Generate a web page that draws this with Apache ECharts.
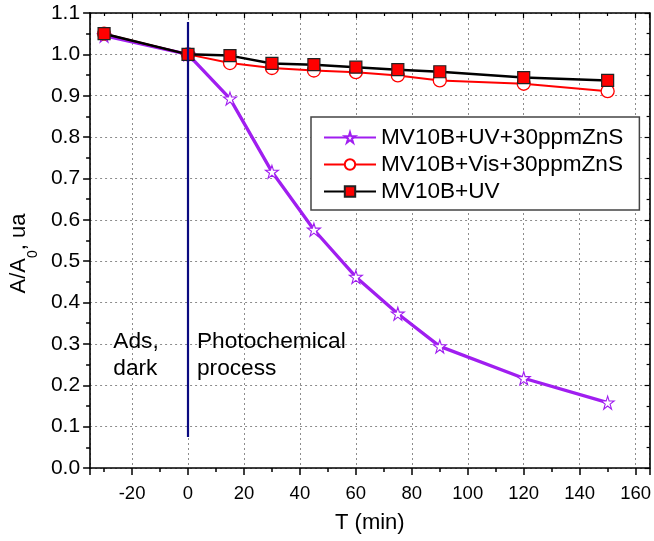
<!DOCTYPE html>
<html>
<head>
<meta charset="utf-8">
<script src="https://cdn.jsdelivr.net/npm/echarts@6/dist/echarts.min.js"></script>
<style>html,body{margin:0;padding:0;background:#fff}#c{width:654px;height:541px}</style>
</head>
<body>
<div id="c"></div>
<script>
var times = [-30, 0, 15, 30, 45, 60, 75, 90, 120, 150];
var uvZnS  = [1.045, 1.0, 0.893, 0.716, 0.576, 0.462, 0.373, 0.294, 0.217, 0.158];
var visZnS = [1.05, 1.0, 0.979, 0.967, 0.961, 0.957, 0.949, 0.937, 0.929, 0.911];
var uvOnly = [1.05, 1.0, 0.997, 0.978, 0.975, 0.969, 0.963, 0.958, 0.944, 0.937];
var seriesNames = ['MV10B+UV+30ppmZnS', 'MV10B+Vis+30ppmZnS', 'MV10B+UV'];
var divider = {x: 0, yFrom: 0.075, yTo: 1.078};
var notes = [
  {text: 'Ads,\ndark', x: -26.7, y: 0.306},
  {text: 'Photochemical\nprocess', x: 3.2, y: 0.306}
];
var xRange = [-35, 165];
var yRange = [0, 1.1];

function pairs(ys){ return times.map(function(t,i){ return [t, ys[i]]; }); }

var FONT = 'Liberation Sans, Arial, sans-serif';
var chart = echarts.init(document.getElementById('c'), null, {renderer:'canvas'});

var axisLineStyle = {color:'#000', width:1.6};
var gridLine = {show:true, lineStyle:{color:'#8c8c8c', type:[2,3], width:1}};

chart.setOption({
  animation:false,
  backgroundColor:'#fff',
  grid:{left:88, right:3, top:13, bottom:73},
  legend:{
    left:311, top:117,
    orient:'vertical',
    data:seriesNames,
    itemWidth:52, itemHeight:13, itemGap:4,
    padding:[9,16,7,12],
    borderColor:'#444', borderWidth:1.5, backgroundColor:'#fff',
    textStyle:{fontFamily:FONT, fontSize:22.6, color:'#000', lineHeight:23},
    z:10
  },
  xAxis:[{
    type:'value', min:xRange[0], max:xRange[1], splitNumber:10,
    name:'T (min)', nameLocation:'middle', nameGap:44,
    nameTextStyle:{fontFamily:FONT, fontSize:22, color:'#000'},
    axisLine:{show:true, onZero:false, lineStyle:axisLineStyle},
    axisTick:{show:true, inside:false, length:7, lineStyle:{color:'#000', width:1.5}},
    minorTick:{show:true, splitNumber:2, length:4, lineStyle:{color:'#000', width:1.5}},
    axisLabel:{fontFamily:FONT, fontSize:18.5, color:'#000', margin:16, showMinLabel:false, showMaxLabel:false},
    splitLine:gridLine
  },{
    type:'value', position:'top', min:xRange[0], max:xRange[1], splitNumber:10,
    axisLine:{show:true, onZero:false, lineStyle:axisLineStyle},
    axisTick:{show:true, inside:true, length:5, lineStyle:{color:'#000', width:1.2}},
    minorTick:{show:true, splitNumber:2, length:3, lineStyle:{color:'#000', width:1.2}},
    axisLabel:{show:false}, splitLine:{show:false}
  }],
  yAxis:[{
    type:'value', min:yRange[0], max:yRange[1], interval:0.1,
    name:'{a|A/A}{s|0}{a|, ua}', nameLocation:'middle', nameGap:55, nameRotate:90,
    nameTextStyle:{padding:[0,26,0,0], rich:{a:{fontFamily:FONT, fontSize:22, color:'#000'}, s:{fontFamily:FONT, fontSize:14, color:'#000', verticalAlign:'bottom', padding:[0,0,-10,0]}}},
    axisLine:{show:true, onZero:false, lineStyle:axisLineStyle},
    axisTick:{show:true, inside:false, length:7, lineStyle:{color:'#000', width:1.5}},
    minorTick:{show:true, splitNumber:2, length:4, lineStyle:{color:'#000', width:1.5}},
    axisLabel:{fontFamily:FONT, fontSize:21, color:'#000', margin:10, formatter:function(v){return v.toFixed(1);}},
    splitLine:gridLine
  },{
    type:'value', position:'right', min:yRange[0], max:yRange[1], interval:0.1,
    axisLine:{show:true, onZero:false, lineStyle:axisLineStyle},
    axisTick:{show:true, inside:true, length:5, lineStyle:{color:'#000', width:1.2}},
    minorTick:{show:true, splitNumber:2, length:3, lineStyle:{color:'#000', width:1.2}},
    axisLabel:{show:false}, splitLine:{show:false}
  }],
  series:[{
    name:seriesNames[0], type:'line', data:pairs(uvZnS), z:3,
    symbol:'path://M50,2 L61,37 L98,37 L68,59 L79,95 L50,73 L21,95 L32,59 L2,37 L39,37 Z',
    symbolSize:13,
    lineStyle:{color:'#a01ef0', width:3.3},
    itemStyle:{color:'#fff', borderColor:'#a01ef0', borderWidth:1.1}
  },{
    name:seriesNames[1], type:'line', data:pairs(visZnS), z:4,
    symbol:'circle', symbolSize:13,
    lineStyle:{color:'#ff0000', width:2},
    itemStyle:{color:'#fff', borderColor:'#ff0000', borderWidth:1.3}
  },{
    name:seriesNames[2], type:'line', data:pairs(uvOnly), z:5,
    symbol:'rect', symbolSize:12,
    lineStyle:{color:'#000', width:2.5},
    itemStyle:{color:'#ff0000', borderColor:'#222', borderWidth:1.2},
    markLine:{
      silent:true, symbol:['none','none'], z:6,
      lineStyle:{color:'#0a0a80', width:2.2, type:'solid'},
      label:{show:false},
      data:[[{coord:[divider.x, divider.yFrom]}, {coord:[divider.x, divider.yTo]}]]
    }
  }]
});

var g = notes.map(function(n){
  var p = chart.convertToPixel({xAxisIndex:0, yAxisIndex:0}, [n.x, n.y]);
  return {type:'text', x:p[0], y:p[1], z:20,
    style:{text:n.text, fill:'#000', font:'22.7px '+FONT, textAlign:'left', textVerticalAlign:'middle', lineHeight:26.5}};
});
g.forEach(function(e){ e.y += 14; });
chart.setOption({graphic:g});
</script>
</body>
</html>
